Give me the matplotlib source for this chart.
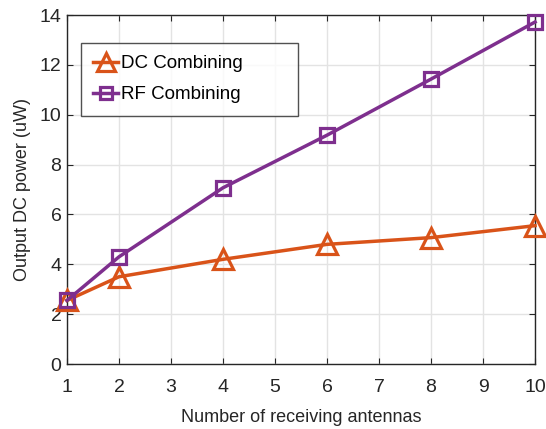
"""Output DC power vs number of receiving antennas (DC vs RF combining)."""
import matplotlib
matplotlib.use("Agg")
import matplotlib.pyplot as plt

# data
antennas = [1, 2, 4, 6, 8, 10]
dc_combining = [2.55, 3.5, 4.2, 4.8, 5.07, 5.55]
rf_combining = [2.55, 4.3, 7.07, 9.18, 11.43, 13.72]

xticks = list(range(1, 11))
yticks = [0, 2, 4, 6, 8, 10, 12, 14]

plt.rcParams["font.family"] = ["Liberation Sans", "DejaVu Sans"]

fig = plt.figure(figsize=(5.46, 4.29), dpi=100)
ax = fig.add_axes([0.1227, 0.1515, 0.8573, 0.8135])

ax.plot(antennas, dc_combining, color="#D95319", lw=2.5, marker="^",
        ms=14, mew=2.3, mfc="none", label="DC Combining", zorder=3,
        clip_on=False)
ax.plot(antennas, rf_combining, color="#7E2F8E", lw=2.5, marker="s",
        ms=10, mew=2.3, mfc="none", label="RF Combining", zorder=4,
        clip_on=False)

ax.set_xlim(1, 10)
ax.set_ylim(0, 14)
ax.set_xticks(xticks)
ax.set_yticks(yticks)
ax.grid(True, color="#e3e3e3", lw=1)
ax.set_axisbelow(True)

for s in ax.spines.values():
    s.set_color("#262626")
    s.set_linewidth(1.0)
ax.tick_params(direction="in", top=True, right=True, length=4,
               color="#262626", labelcolor="#262626", labelsize=14)
ax.tick_params(axis="x", pad=11)
ax.tick_params(axis="y", pad=4)

ax.set_xlabel("Number of receiving antennas", fontsize=13, color="#262626", labelpad=9)
ax.set_ylabel("Output DC power (uW)", fontsize=13, color="#262626", labelpad=6)

leg = ax.legend(loc="upper left", bbox_to_anchor=(0.030, 0.5, 0.4637, 0.42),
                mode="expand", fontsize=13.5, frameon=True, fancybox=False,
                edgecolor="#262626", handlelength=1.3, borderpad=0.66,
                labelspacing=0.74, handletextpad=0.15, borderaxespad=0.0)
leg.get_frame().set_linewidth(1.0)
for h in leg.legend_handles:
    h.set_markersize(h.get_markersize() * 0.9)

fig.savefig("out.png", dpi=100)
